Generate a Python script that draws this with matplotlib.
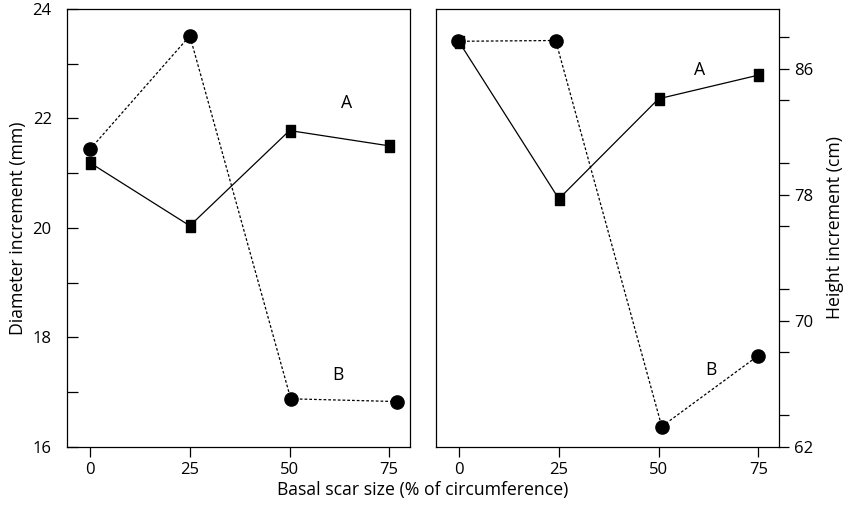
import numpy as np
import matplotlib
matplotlib.use("Agg")
import matplotlib.pyplot as plt
from matplotlib.ticker import MultipleLocator
from matplotlib.path import Path

plt.rcParams["font.family"] = ["Open Sans", "DejaVu Sans"]

# scar size classes (% of circumference)
scar = [0, 25, 50, 75]

# diameter increment (mm)
diam_a_x = [0, 25, 50, 75]
diam_a = [21.19, 20.04, 21.78, 21.50]
diam_b_x = [0, 25, 50.3, 76.9]
diam_b = [21.44, 23.51, 16.88, 16.83]

# height increment (cm)
height_a_x = [0, 25, 50, 75]
height_a = [87.7, 77.75, 84.1, 85.6]
height_b_x = [-0.4, 24.2, 50.8, 75]
height_b = [87.75, 87.8, 63.3, 67.8]

# slightly tall rectangle marker like the original
rect = Path([(-0.36, -0.5), (0.36, -0.5), (0.36, 0.5), (-0.36, 0.5), (-0.36, -0.5)],
            [Path.MOVETO, Path.LINETO, Path.LINETO, Path.LINETO, Path.CLOSEPOLY])

fig = plt.figure(figsize=(8.46, 5.08), dpi=100)
ax1 = fig.add_axes([0.0792, 0.1201, 0.4054, 0.8622])
ax2 = fig.add_axes([0.5154, 0.1201, 0.4054, 0.8622])

dots = (0, (2.2, 1.6))

# left panel
ax1.plot(diam_a_x, diam_a, "k-", lw=0.9, marker=rect, ms=9)
ax1.plot(diam_b_x, diam_b, color="k", ls=dots, lw=0.9, marker="o", ms=9.5)
ax1.set_xlim(-5.8, 80.2)
ax1.set_ylim(16, 24)
ax1.yaxis.set_major_locator(MultipleLocator(2))
ax1.yaxis.set_minor_locator(MultipleLocator(1))
ax1.set_xticks(scar)
ax1.tick_params(axis="y", which="both", direction="in", length=8, width=0.9, labelsize=12, pad=11)
ax1.tick_params(axis="x", direction="out", length=7, width=0.9, labelsize=12, pad=4)
ax1.set_ylabel("Diameter increment (mm)", fontsize=12.7, labelpad=4)
ax1.text(64.4, 22.28, "A", fontsize=12.7, ha="center", va="center")
ax1.text(62.2, 17.32, "B", fontsize=12.7, ha="center", va="center")

# right panel
ax2.plot(height_a_x, height_a, "k-", lw=0.9, marker=rect, ms=9)
ax2.plot(height_b_x, height_b, color="k", ls=dots, lw=0.9, marker="o", ms=9.5)
ax2.set_xlim(-5.8, 80.2)
ax2.set_ylim(62, 89.8)
ax2.yaxis.tick_right()
ax2.yaxis.set_label_position("right")
ax2.set_yticks([62, 70, 78, 86])
ax2.yaxis.set_minor_locator(MultipleLocator(4))
ax2.set_xticks(scar)
ax2.tick_params(axis="y", which="both", direction="out", length=7, width=0.9, labelsize=12, pad=4)
ax2.tick_params(axis="x", direction="out", length=7, width=0.9, labelsize=12, pad=4)
ax2.set_ylabel("Height increment (cm)", fontsize=12.7, labelpad=9)
ax2.text(60.2, 85.94, "A", fontsize=12.7, ha="center", va="center")
ax2.text(63.2, 66.9, "B", fontsize=12.7, ha="center", va="center")

for ax in (ax1, ax2):
    for s in ax.spines.values():
        s.set_linewidth(0.9)

fig.text(0.5, 0.035, "Basal scar size (% of circumference)", fontsize=12.7, ha="center", va="center")

fig.savefig("out.png", dpi=100)
